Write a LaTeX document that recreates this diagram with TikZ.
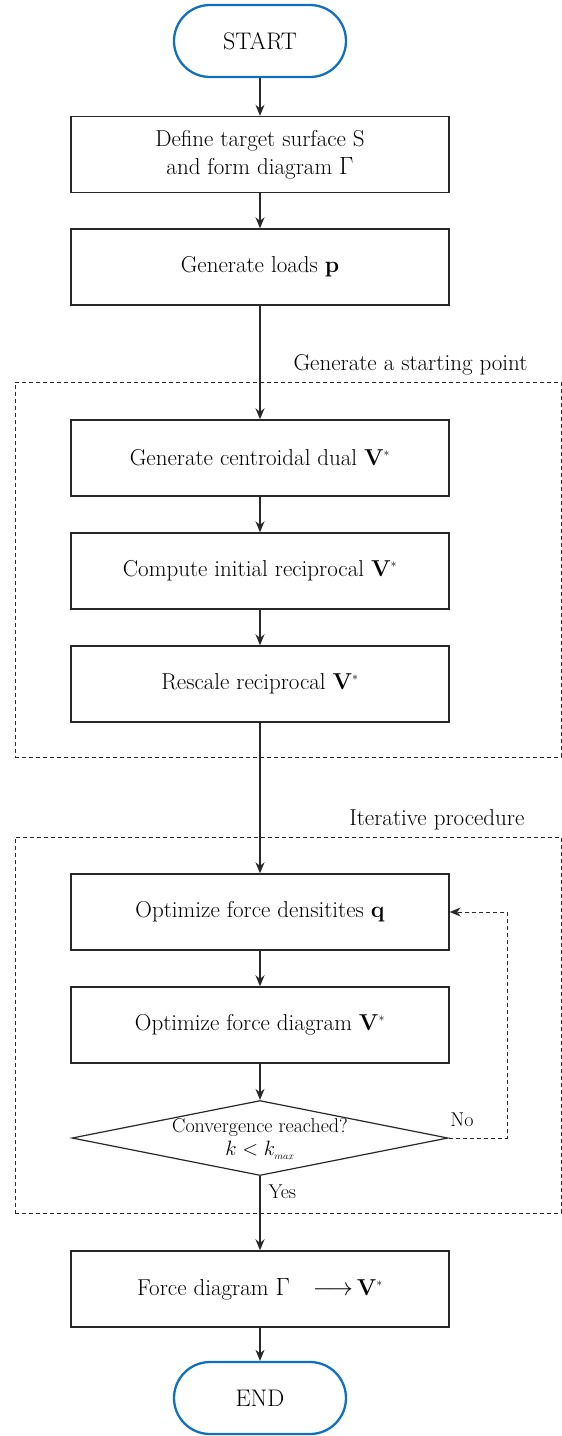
\documentclass[tikz,border=0pt]{standalone}
\usepackage{fontspec}
\usepackage{amsmath}
\usetikzlibrary{arrows.meta,shapes.geometric}
\definecolor{termblue}{RGB}{14,112,190}
\definecolor{ink}{RGB}{40,40,40}
\newcommand{\vstar}{\textbf{V}$^{\scriptscriptstyle *}$}
\begin{document}
\begin{tikzpicture}[x=1pt,y=-1pt,
  every node/.style={font=\fontsize{23}{28}\selectfont, text=black},
  stepbox/.style={draw=ink, line width=1.4pt, minimum width=378pt, minimum height=76pt, inner sep=0pt, align=center},
  terminal/.style={draw=termblue, line width=2.3pt, rounded corners=36pt, minimum width=172pt, minimum height=72pt, inner sep=0pt, font=\fontsize{24}{28}\selectfont},
  decision/.style={draw=ink, line width=1.2pt, diamond, minimum width=376pt, minimum height=75pt, inner sep=0pt},
  group/.style={draw=ink, line width=0.9pt, dash pattern=on 4pt off 3pt, minimum width=546pt, inner sep=0pt},
  flow/.style={draw=ink, line width=1.3pt, -{Stealth[length=11pt,width=9pt]}},
  loopback/.style={draw=ink, line width=1pt, dash pattern=on 4pt off 3pt, -{Stealth[length=11pt,width=9pt]}},
  small/.style={font=\fontsize{20}{23}\selectfont}
]
\useasboundingbox (0,0) rectangle (562,1436);

% dashed frames around the two stages
\node[group, minimum height=375pt] (grpstart) at (288,569.5) {};
\node[group, minimum height=376pt] (grpiter) at (288,1025) {};
\node[anchor=base east] (lblstart) at (531,370) {Generate a starting point};
\node[anchor=base east] (lbliter) at (528,825) {Iterative procedure};

% terminals and steps
\node[terminal] (start) at (260,41) {START};
\node[stepbox] (define) at (260,154.5) {Define target surface S\\and form diagram $\Gamma$};
\node[stepbox] (loads) at (260,267) {Generate loads \textbf{p}};
\node[stepbox] (dual) at (260,458) {Generate centroidal dual \vstar};
\node[stepbox] (recip) at (260,571) {Compute initial reciprocal \vstar};
\node[stepbox] (rescale) at (260,684) {Rescale reciprocal \vstar};
\node[stepbox] (optq) at (260,912) {Optimize force densitites \textbf{q}};
\node[stepbox] (optv) at (260,1025) {Optimize force diagram \vstar};
\node[decision] (conv) at (260,1138) {};
\node[small, align=center] (convtext) at (260,1139) {Convergence reached?\\[0pt]$k < k_{\scriptscriptstyle max}$};
\node[stepbox] (final) at (260,1289) {Force diagram $\Gamma$\quad$\longrightarrow$\,\vstar};
\node[terminal] (end) at (260,1398) {END};

% connectors
\draw[flow] (start) -- (define);
\draw[flow] (define) -- (loads);
\draw[flow] (loads) -- (dual);
\draw[flow] (dual) -- (recip);
\draw[flow] (recip) -- (rescale);
\draw[flow] (rescale) -- (optq);
\draw[flow] (optq) -- (optv);
\draw[flow] (optv) -- (conv);
\draw[flow] (conv) -- (final);
\draw[flow] (final) -- (end);

% loop back when not converged
\coordinate (loopcorner) at (507,1138);
\draw[loopback] (conv.east) -- (loopcorner) |- (optq.east);

\node[small, anchor=west] (yes) at (265,1192) {Yes};
\node[small] (no) at (462,1120) {No};
\end{tikzpicture}
\end{document}
